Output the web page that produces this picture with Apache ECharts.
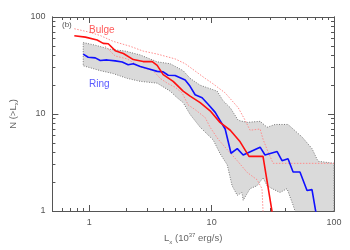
<!DOCTYPE html>
<html><head><meta charset="utf-8">
<script src="https://cdn.jsdelivr.net/npm/echarts@6/dist/echarts.min.js"></script>
<style>html,body{margin:0;padding:0;background:#fff}#c{width:350px;height:250px}</style>
</head><body><div id="c"></div>
<script>
// Bulge (red solid)
const bulgeX = [0.755,0.93,1.16,1.30,1.43,1.63,1.90,2.29,2.76,3.27,3.59,4.02,4.85,5.85,6.67,8.06,9.72,11.7,14.2,17.1,20.2,26.3,31.2];
const bulgeY = [64,62,58,53.5,53,45,42,36.4,34.7,34.7,31.7,25.5,21.7,17.2,15.3,13.1,10.8,8.2,6.8,5.17,3.66,3.66,0.98];
// Ring (blue solid)
const ringX = [0.893,0.98,1.12,1.23,1.40,1.63,1.86,2.08,2.29,2.61,3.03,3.59,4.02,4.42,5.03,6.08,6.67,7.33,8.36,9.36,10.7,11.7,12.9,14.4,16.2,18.1,24.9,27.3,34.3,37.6,42.1,46.3,52.7,60.2,66.1,71.3];
const ringY = [41.5,38.5,37.9,35.6,36.1,35.3,34.3,32.2,33,30.9,29.3,27.5,27.2,25.1,24.9,22.4,19.3,15.8,14.7,12.6,10.4,8.6,7.0,3.94,4.40,3.78,4.55,3.78,4.10,3.30,3.45,2.52,2.52,1.63,1.66,0.95];
// Ring uncertainty band (grey)
const bandUpperX = [0.893,1.12,1.48,1.97,2.61,3.59,4.58,5.85,6.67,8.06,11.1,12.4,14.2,16.5,19.5,24.9,28.4,33,42.1,54.8,66.1,74,100];
const bandUpperY = [54.5,51.2,46.5,44.5,40.6,34.5,33,28,23.3,19.8,17.2,13.7,11.6,8.6,8.2,8.4,7.3,7.8,7.8,5.8,4.4,3.26,3.1];
const bandLowerX = [0.893,1.23,1.57,2.04,2.61,3.59,4.58,5.23,5.85,6.67,8.06,10.3,11.7,13.4,14.7,16.2,17.7,18.1,20.6,23.5,26.3,28.4,31.2,36.2,41.3,46.3,48,60,100];
const bandLowerY = [31.4,28,26.1,23.3,21.7,20.8,17.2,14.7,13.1,9.9,7.3,5.4,3.92,3.0,1.82,1.45,1.55,1.29,1.70,1.82,2.2,1.82,1.70,1.55,1.70,1.15,1.0,0.5,0.5];
// Bulge uncertainty bounds (red dotted)
const bulgeHiX = [0.755,0.963,1.23,1.57,2.16,2.76,3.59,5.03,6.08,8.85,10.1,12.9,16.5,18.8,20.6,24.9,26.3,28.4,31.8,100];
const bulgeHiY = [75.7,70.6,64.4,56.1,49.9,44.5,41.5,37,33,23.3,20.8,16.5,11.6,8.6,6.8,7.0,5.5,4.3,3.1,3.1];
const bulgeLoX = [1.35,1.63,2.04,2.61,3.33,3.8,4.33,5.03,5.74,6.43,7.33,8.85,9.72,11.3,13.4,16.2,19.5,23.5,25.8,26.3,26.5];
const bulgeLoY = [49.9,39.6,37,30.7,28,23.3,20.8,18.9,16.5,12.4,11.1,9.2,7.3,5.5,4.3,3.3,2.5,2.1,1.70,1.0,0.6];
// Axis ticks
const xMajor = [1,10,100];
const xMinor = [0.6,0.7,0.8,0.9,2,3,4,5,6,7,8,9,20,30,40,50,60,70,80,90];
const yMajor = [1,10,100];
const yMinor = [2,3,4,5,6,7,8,9,20,30,40,50,60,70,80,90];

const zip = (a,b) => a.map((v,i)=>[v,b[i]]);
const font = 'Liberation Sans, Arial, sans-serif';
const axisCol = '#555';
const labFmt = v => String(Math.round(v));

function mkAxis(pos, ticks, len, withLabel, extra) {
  return Object.assign({
    type: 'log', logBase: 10, position: pos, offset: 0,
    axisLine: {show: true, lineStyle: {color: axisCol, width: 1}},
    axisTick: {show: true, inside: true, length: len, customValues: ticks, lineStyle: {color: axisCol, width: 1}},
    axisLabel: withLabel ? {show: true, customValues: ticks, formatter: labFmt, color: '#555', fontSize: 9, fontFamily: font, margin: 7} : {show: false},
    splitLine: {show: false}, minorTick: {show: false}
  }, extra);
}
const xr = {min: 0.5, max: 100};
const yr = {min: 1, max: 100};

const chart = echarts.init(document.getElementById('c'), null, {renderer: 'canvas'});
chart.setOption({
  animation: false,
  grid: {left: 52, top: 17, right: 16, bottom: 34, containLabel: false},
  xAxis: [
    mkAxis('bottom', xMajor, 6, true, Object.assign({
      name: '{n|L}{sub|x}{n| (10}{sup|37}{n| erg/s)}', nameLocation: 'middle', nameGap: 21,
      nameTextStyle: {color: '#666', fontFamily: font, rich: {
        n: {fontSize: 9.5, color: '#666', fontFamily: font, lineHeight: 13},
        sub: {fontSize: 6, color: '#666', fontFamily: font, verticalAlign: 'bottom', lineHeight: 9},
        sup: {fontSize: 6, color: '#666', fontFamily: font, verticalAlign: 'top', lineHeight: 9}
      }}}, xr)),
    mkAxis('bottom', xMinor, 3, false, xr),
    mkAxis('top', xMajor, 6, false, xr),
    mkAxis('top', xMinor, 3, false, xr)
  ],
  yAxis: [
    mkAxis('left', yMajor, 6, true, Object.assign({
      name: '{n|N (>L}{sub|x}{n|)}', nameLocation: 'middle', nameGap: 25,
      nameTextStyle: {color: '#666', fontFamily: font, rich: {
        n: {fontSize: 9.5, color: '#666', fontFamily: font, lineHeight: 13},
        sub: {fontSize: 6, color: '#666', fontFamily: font, verticalAlign: 'bottom', lineHeight: 9}
      }}}, yr)),
    mkAxis('left', yMinor, 3, false, yr),
    mkAxis('right', yMajor, 6, false, yr),
    mkAxis('right', yMinor, 3, false, yr)
  ],
  series: [
    {
      type: 'custom', clip: true, xAxisIndex: 0, yAxisIndex: 0, silent: true,
      data: [[1, 10]],
      renderItem: function (params, api) {
        const pts = [];
        for (let i = 0; i < bandUpperX.length; i++) pts.push(api.coord([bandUpperX[i], bandUpperY[i]]));
        for (let i = bandLowerX.length - 1; i >= 0; i--) pts.push(api.coord([bandLowerX[i], bandLowerY[i]]));
        return {type: 'polygon', shape: {points: pts},
          style: {fill: '#dadada', stroke: '#777', lineWidth: 1, lineDash: [1, 1.5]}};
      },
      z: 1
    },
    {type: 'line', data: zip(bulgeHiX, bulgeHiY), showSymbol: false, clip: true, z: 2,
      lineStyle: {color: '#ff8c8c', width: 1, type: [1.5, 1.5]}},
    {type: 'line', data: zip(bulgeLoX, bulgeLoY), showSymbol: false, clip: true, z: 2,
      lineStyle: {color: '#ff8c8c', width: 1, type: [1.5, 1.5]}},
    {type: 'line', data: zip(ringX, ringY), showSymbol: false, clip: true, z: 3,
      lineStyle: {color: '#1010ff', width: 1.6}},
    {type: 'line', data: zip(bulgeX, bulgeY), showSymbol: false, clip: true, z: 4,
      lineStyle: {color: '#ff1010', width: 1.6}}
  ],
  graphic: [
    {type: 'text', left: 62, top: 21, style: {text: '(b)', fill: '#555', fontSize: 8, fontFamily: font}, z: 10},
    {type: 'text', left: 89, top: 25, style: {text: 'Bulge', fill: '#ff5a5a', fontSize: 10, fontFamily: font}, z: 10},
    {type: 'text', left: 89, top: 79, style: {text: 'Ring', fill: '#5a5aff', fontSize: 10, fontFamily: font}, z: 10}
  ]
});
</script>
</body></html>
